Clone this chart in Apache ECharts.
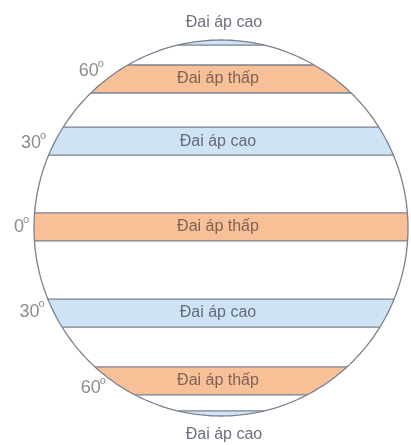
<!DOCTYPE html>
<html>
<head>
<meta charset="utf-8">
<script src="https://cdn.jsdelivr.net/npm/echarts@6/dist/echarts.min.js"></script>
<style>html,body{margin:0;padding:0;background:#fff}#c{width:411px;height:445px}</style>
</head>
<body>
<div id="c"></div>
<script>
// Pressure belts (globe radius = 1, y = vertical position on diagram)
const bandNames  = ['Đai áp cao', 'Đai áp thấp', 'Đai áp cao', 'Đai áp thấp', 'Đai áp cao', 'Đai áp thấp', 'Đai áp cao'];
const bandKinds  = ['high', 'low', 'high', 'low', 'high', 'low', 'high'];
const bandTop    = [1.000, 0.867, 0.537, 0.080, -0.378, -0.739, -0.973];
const bandBottom = [0.973, 0.718, 0.388, -0.069, -0.527, -0.888, -1.000];
const bandLabelY = [1.092, 0.795, 0.462, 0.006, -0.452, -0.812, -1.098];
// Latitude labels
const latLabels = ['60', '30', '0', '30', '60'];
const latY      = [0.840, 0.457, 0.010, -0.440, -0.848];

const FILL = {high: '#cfe3f6', low: '#f8c096'};
const TXT  = {high: '#636a7b', low: '#80615a'};
const EDGE = '#7b8090';
const DEG  = '#8c8c90';
const NARROW = '"Liberation Sans Narrow", "Liberation Sans", Arial, sans-serif';

const chart = echarts.init(document.getElementById('c'));

function arcPoly(api, t, b) {
  const pts = [], N = 30;
  for (let k = 0; k <= N; k++) {
    const y = t + (b - t) * k / N;
    pts.push(api.coord([-Math.sqrt(Math.max(0, 1 - y * y)), y]));
  }
  for (let k = N; k >= 0; k--) {
    const y = t + (b - t) * k / N;
    pts.push(api.coord([Math.sqrt(Math.max(0, 1 - y * y)), y]));
  }
  return pts;
}
function chord(api, y) {
  const x = Math.sqrt(Math.max(0, 1 - y * y));
  const p1 = api.coord([-x, y]), p2 = api.coord([x, y]);
  return {type: 'line', shape: {x1: p1[0], y1: p1[1], x2: p2[0], y2: p2[1]},
          style: {stroke: EDGE, lineWidth: 1.3}};
}

chart.setOption({
  animation: false,
  grid: {left: 34, right: 3, top: 40, bottom: 29},
  xAxis: {type: 'value', min: -1, max: 1, show: false},
  yAxis: {type: 'value', min: -1, max: 1, show: false},
  series: [
    {
      type: 'custom', z: 2, clip: false,
      data: bandTop.map((t, i) => [t, bandBottom[i], bandLabelY[i]]),
      renderItem: function (params, api) {
        const i = params.dataIndex;
        const t = api.value(0), b = api.value(1), ly = api.value(2);
        const kind = bandKinds[i];
        const children = [{type: 'polygon', shape: {points: arcPoly(api, t, b)},
                           style: {fill: FILL[kind]}}];
        if (Math.abs(t) < 1) children.push(chord(api, t));
        if (Math.abs(b) < 1) children.push(chord(api, b));
        const cap = Math.abs(ly) > 1;
        const lp = api.coord([0, ly]);
        children.push({type: 'text', x: lp[0] + (cap ? 3 : -3), y: lp[1],
          style: {text: bandNames[i], fill: cap ? '#6b707d' : TXT[kind],
                  font: '16px "Liberation Sans", Arial, sans-serif',
                  textAlign: 'center', textVerticalAlign: 'middle'}});
        return {type: 'group', children: children};
      }
    },
    {
      type: 'custom', z: 3, clip: false,
      data: [[0, 0]],
      renderItem: function (params, api) {
        const pts = [];
        for (let k = 0; k <= 240; k++) {
          const a = k / 240 * Math.PI * 2;
          pts.push(api.coord([Math.cos(a), Math.sin(a)]));
        }
        return {type: 'polygon', shape: {points: pts},
                style: {fill: null, stroke: EDGE, lineWidth: 1.3}};
      }
    },
    {
      type: 'custom', z: 4, clip: false,
      data: latY.map(y => [0, y]),
      renderItem: function (params, api) {
        const y = api.value(1);
        const ye = y - Math.sign(y) * 0.04;
        const xe = -Math.sqrt(Math.max(0, 1 - ye * ye));
        const p = api.coord([xe, y]);
        const right = p[0] - 3;
        return {type: 'group', children: [
          {type: 'text', x: right - 7, y: p[1] + 1,
           style: {text: latLabels[params.dataIndex], fill: DEG,
                   font: '18px ' + NARROW, textAlign: 'right', textVerticalAlign: 'middle'}},
          {type: 'text', x: right - 8, y: p[1] - 12,
           style: {text: 'o', fill: DEG,
                   font: '11px ' + NARROW, textAlign: 'left', textVerticalAlign: 'top'}}
        ]};
      }
    }
  ]
});
</script>
</body>
</html>
